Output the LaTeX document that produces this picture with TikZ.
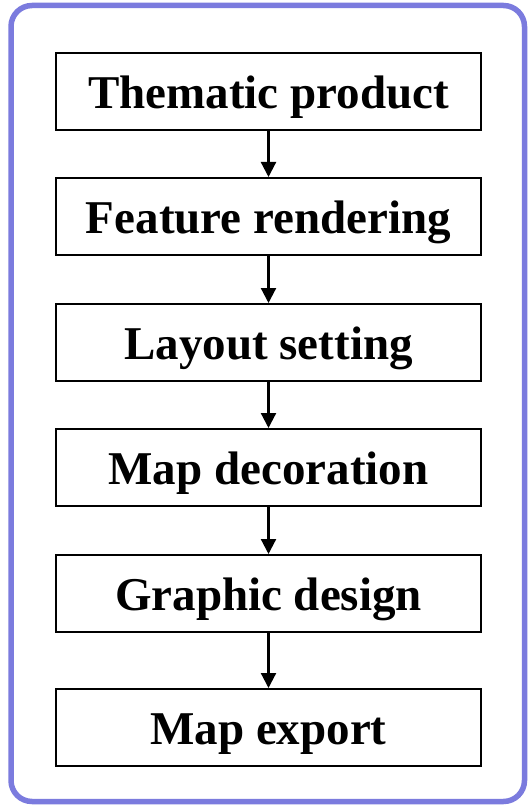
\documentclass[tikz,border=0pt]{standalone}
\usepackage{fontspec}
\setmainfont{Liberation Serif}
\usetikzlibrary{arrows.meta}
\definecolor{frame}{RGB}{123,123,222}
\begin{document}
\begin{tikzpicture}[x=1pt,y=-1pt,
  stepbox/.style={draw=black,line width=1.6pt,minimum width=425pt,minimum height=77pt,inner sep=0pt,
    text height=34pt,text depth=0pt,
    font=\fontsize{47}{50}\selectfont\bfseries,anchor=north},
  flow/.style={draw=black,line width=2.2pt,-{Triangle[width=15pt,length=15pt]}}]
\useasboundingbox (0,0) rectangle (528,805);
\fill[white] (0,0) rectangle (528,805);
\draw[frame,line width=5.5pt,rounded corners=21pt] (11,5.5) rectangle (524.5,801.5);
\node[stepbox] (n1) at (268.5,52) {Thematic product};
\node[stepbox] (n2) at (268.5,177) {Feature rendering};
\node[stepbox] (n3) at (268.5,303) {Layout setting};
\node[stepbox] (n4) at (268.5,428) {Map decoration};
\node[stepbox] (n5) at (268.5,554) {Graphic design};
\node[stepbox] (n6) at (268.5,688) {Map export};
\draw[flow] (n1.south) -- (n2.north);
\draw[flow] (n2.south) -- (n3.north);
\draw[flow] (n3.south) -- (n4.north);
\draw[flow] (n4.south) -- (n5.north);
\draw[flow] (n5.south) -- (n6.north);
\end{tikzpicture}
\end{document}
